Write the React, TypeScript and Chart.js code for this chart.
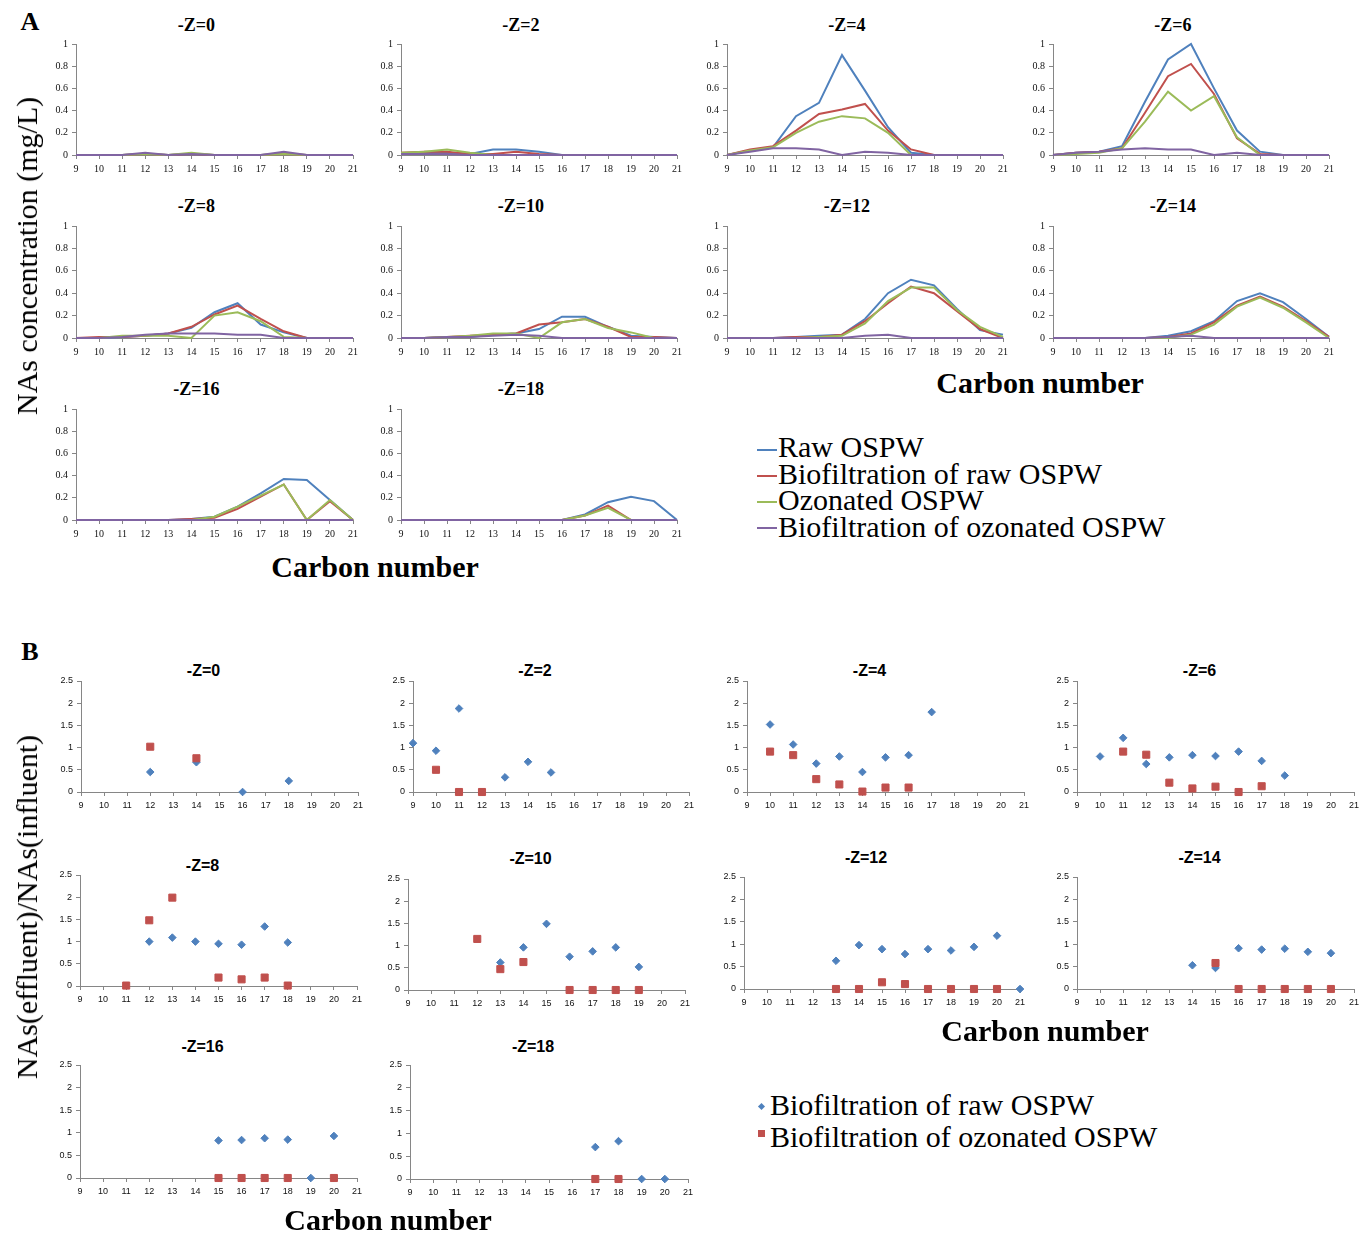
import React, { useEffect, useRef } from "react";
import { Chart, registerables } from "chart.js";

Chart.register(...registerables);

// ---------- shared ----------
const carbonNumbers = [9, 10, 11, 12, 13, 14, 15, 16, 17, 18, 19, 20, 21];
const zValues = [0, 2, 4, 6, 8, 10, 12, 14, 16, 18];

// ---------- Panel A: NAs concentration (mg/L) ----------
const seriesNamesA = ["Raw OSPW", "Biofiltration of raw OSPW", "Ozonated OSPW", "Biofiltration of ozonated OSPW"];
const seriesColorsA = ["#4F81BD", "#C0504D", "#9BBB59", "#8064A2"];

const rawZ0 = [0, 0, 0, 0.01, 0, 0.01, 0, 0, 0, 0.01, 0, 0, 0];
const bioRawZ0 = [0, 0, 0, 0.01, 0, 0.01, 0, 0, 0, 0.01, 0, 0, 0];
const ozoZ0 = [0, 0, 0, 0.01, 0, 0.02, 0, 0, 0, 0.01, 0, 0, 0];
const bioOzoZ0 = [0, 0, 0, 0.02, 0, 0.01, 0, 0, 0, 0.03, 0, 0, 0];

const rawZ2 = [0.01, 0.02, 0.02, 0.01, 0.05, 0.05, 0.03, 0, 0, 0, 0, 0, 0];
const bioRawZ2 = [0.02, 0.03, 0.03, 0.01, 0.01, 0.03, 0.01, 0, 0, 0, 0, 0, 0];
const ozoZ2 = [0.02, 0.03, 0.05, 0.02, 0, 0, 0, 0, 0, 0, 0, 0, 0];
const bioOzoZ2 = [0.01, 0.01, 0.01, 0, 0, 0, 0, 0, 0, 0, 0, 0, 0];

const rawZ4 = [0, 0.04, 0.07, 0.35, 0.47, 0.9, 0.58, 0.25, 0.02, 0, 0, 0, 0];
const bioRawZ4 = [0, 0.05, 0.08, 0.22, 0.37, 0.41, 0.46, 0.22, 0.05, 0, 0, 0, 0];
const ozoZ4 = [0, 0.04, 0.07, 0.2, 0.3, 0.35, 0.33, 0.2, 0, 0, 0, 0, 0];
const bioOzoZ4 = [0, 0.03, 0.06, 0.06, 0.05, 0, 0.03, 0.02, 0, 0, 0, 0, 0];

const rawZ6 = [0, 0.02, 0.03, 0.08, 0.48, 0.86, 1.0, 0.6, 0.22, 0.03, 0, 0, 0];
const bioRawZ6 = [0, 0.02, 0.03, 0.06, 0.38, 0.71, 0.82, 0.55, 0.15, 0.01, 0, 0, 0];
const ozoZ6 = [0, 0.01, 0.02, 0.06, 0.3, 0.57, 0.4, 0.53, 0.16, 0, 0, 0, 0];
const bioOzoZ6 = [0, 0.02, 0.03, 0.05, 0.06, 0.05, 0.05, 0, 0.02, 0, 0, 0, 0];

const rawZ8 = [0, 0, 0.01, 0.02, 0.04, 0.09, 0.23, 0.31, 0.12, 0.05, 0, 0, 0];
const bioRawZ8 = [0, 0.01, 0.01, 0.02, 0.04, 0.1, 0.21, 0.29, 0.17, 0.06, 0, 0, 0];
const ozoZ8 = [0, 0, 0.02, 0.02, 0.02, 0, 0.2, 0.23, 0.15, 0.01, 0, 0, 0];
const bioOzoZ8 = [0, 0, 0.01, 0.03, 0.04, 0.04, 0.04, 0.03, 0.03, 0, 0, 0, 0];

const rawZ10 = [0, 0, 0.01, 0.01, 0.03, 0.04, 0.08, 0.19, 0.19, 0.1, 0.02, 0.01, 0];
const bioRawZ10 = [0, 0, 0.01, 0.02, 0.03, 0.04, 0.12, 0.14, 0.17, 0.1, 0.01, 0.01, 0];
const ozoZ10 = [0, 0, 0.01, 0.02, 0.04, 0.04, 0, 0.14, 0.17, 0.09, 0.05, 0, 0];
const bioOzoZ10 = [0, 0, 0.01, 0.01, 0.02, 0.03, 0.02, 0, 0, 0, 0, 0, 0];

const rawZ12 = [0, 0, 0, 0.01, 0.02, 0.03, 0.17, 0.4, 0.52, 0.47, 0.26, 0.07, 0.03];
const bioRawZ12 = [0, 0, 0, 0.01, 0.01, 0.03, 0.15, 0.31, 0.46, 0.4, 0.24, 0.08, 0];
const ozoZ12 = [0, 0, 0, 0, 0.01, 0.02, 0.13, 0.33, 0.45, 0.45, 0.25, 0.1, 0.01];
const bioOzoZ12 = [0, 0, 0, 0, 0, 0, 0.02, 0.03, 0, 0, 0, 0, 0];

const rawZ14 = [0, 0, 0, 0, 0, 0.02, 0.06, 0.15, 0.33, 0.4, 0.32, 0.17, 0.01];
const bioRawZ14 = [0, 0, 0, 0, 0, 0.01, 0.04, 0.14, 0.29, 0.37, 0.28, 0.15, 0.01];
const ozoZ14 = [0, 0, 0, 0, 0, 0, 0.03, 0.12, 0.28, 0.36, 0.27, 0.14, 0];
const bioOzoZ14 = [0, 0, 0, 0, 0, 0.01, 0.02, 0, 0, 0, 0, 0, 0];

const rawZ16 = [0, 0, 0, 0, 0, 0.01, 0.03, 0.12, 0.24, 0.37, 0.36, 0.18, 0];
const bioRawZ16 = [0, 0, 0, 0, 0, 0.01, 0.02, 0.1, 0.21, 0.32, 0, 0.17, 0];
const ozoZ16 = [0, 0, 0, 0, 0, 0, 0.03, 0.12, 0.22, 0.32, 0, 0.18, 0];
const bioOzoZ16 = [0, 0, 0, 0, 0, 0, 0, 0, 0, 0, 0, 0, 0];

const rawZ18 = [0, 0, 0, 0, 0, 0, 0, 0, 0.05, 0.16, 0.21, 0.17, 0];
const bioRawZ18 = [0, 0, 0, 0, 0, 0, 0, 0, 0.04, 0.13, 0, 0, 0];
const ozoZ18 = [0, 0, 0, 0, 0, 0, 0, 0, 0.04, 0.11, 0, 0, 0];
const bioOzoZ18 = [0, 0, 0, 0, 0, 0, 0, 0, 0, 0, 0, 0, 0];

const panelASeries = [
  [rawZ0, bioRawZ0, ozoZ0, bioOzoZ0],
  [rawZ2, bioRawZ2, ozoZ2, bioOzoZ2],
  [rawZ4, bioRawZ4, ozoZ4, bioOzoZ4],
  [rawZ6, bioRawZ6, ozoZ6, bioOzoZ6],
  [rawZ8, bioRawZ8, ozoZ8, bioOzoZ8],
  [rawZ10, bioRawZ10, ozoZ10, bioOzoZ10],
  [rawZ12, bioRawZ12, ozoZ12, bioOzoZ12],
  [rawZ14, bioRawZ14, ozoZ14, bioOzoZ14],
  [rawZ16, bioRawZ16, ozoZ16, bioOzoZ16],
  [rawZ18, bioRawZ18, ozoZ18, bioOzoZ18],
];
const yTicksA = [0, 0.2, 0.4, 0.6, 0.8, 1];

// ---------- Panel B: NAs(effluent)/NAs(influent) ----------
const seriesNamesB = ["Biofiltration of raw OSPW", "Biofiltration of ozonated OSPW"];
const seriesColorsB = ["#4F81BD", "#C0504D"];
const yTicksB = [0, 0.5, 1, 1.5, 2, 2.5];

const _ = null;
const ratioRawZ0 = [_, _, _, 0.45, _, 0.67, _, 0, _, 0.25, _, _, _];
const ratioOzoZ0 = [_, _, _, 1.02, _, 0.76, _, _, _, _, _, _, _];
const ratioRawZ2 = [1.1, 0.93, 1.88, _, 0.33, 0.68, 0.44, _, _, _, _, _, _];
const ratioOzoZ2 = [_, 0.5, 0, 0, _, _, _, _, _, _, _, _, _];
const ratioRawZ4 = [_, 1.52, 1.07, 0.64, 0.8, 0.45, 0.78, 0.83, 1.8, _, _, _, _];
const ratioOzoZ4 = [_, 0.91, 0.83, 0.29, 0.17, 0.01, 0.1, 0.1, _, _, _, _, _];
const ratioRawZ6 = [_, 0.8, 1.22, 0.63, 0.78, 0.83, 0.81, 0.91, 0.7, 0.37, _, _, _];
const ratioOzoZ6 = [_, _, 0.91, 0.84, 0.21, 0.08, 0.12, 0, 0.13, _, _, _, _];
const ratioRawZ8 = [_, _, _, 1.0, 1.09, 1.0, 0.95, 0.93, 1.34, 0.98, _, _, _];
const ratioOzoZ8 = [_, _, 0.01, 1.48, 1.99, _, 0.19, 0.15, 0.19, 0.01, _, _, _];
const ratioRawZ10 = [_, _, _, _, 0.62, 0.96, 1.49, 0.75, 0.87, 0.96, 0.52, _, _];
const ratioOzoZ10 = [_, _, _, 1.15, 0.47, 0.63, _, 0, 0, 0, 0, _, _];
const ratioRawZ12 = [_, _, _, _, 0.63, 0.98, 0.89, 0.78, 0.89, 0.86, 0.94, 1.19, 0];
const ratioOzoZ12 = [_, _, _, _, 0, 0, 0.15, 0.11, 0, 0, 0, 0, _];
const ratioRawZ14 = [_, _, _, _, _, 0.53, 0.47, 0.91, 0.88, 0.9, 0.83, 0.8, _];
const ratioOzoZ14 = [_, _, _, _, _, _, 0.58, 0, 0, 0, 0, 0, _];
const ratioRawZ16 = [_, _, _, _, _, _, 0.83, 0.84, 0.88, 0.85, 0, 0.93, _];
const ratioOzoZ16 = [_, _, _, _, _, _, 0, 0, 0, 0, _, 0, _];
const ratioRawZ18 = [_, _, _, _, _, _, _, _, 0.7, 0.83, 0, 0, _];
const ratioOzoZ18 = [_, _, _, _, _, _, _, _, 0, 0, _, _, _];

const panelBSeries = [
  [ratioRawZ0, ratioOzoZ0],
  [ratioRawZ2, ratioOzoZ2],
  [ratioRawZ4, ratioOzoZ4],
  [ratioRawZ6, ratioOzoZ6],
  [ratioRawZ8, ratioOzoZ8],
  [ratioRawZ10, ratioOzoZ10],
  [ratioRawZ12, ratioOzoZ12],
  [ratioRawZ14, ratioOzoZ14],
  [ratioRawZ16, ratioOzoZ16],
  [ratioRawZ18, ratioOzoZ18],
];

// ---------- layout (plot-area boxes: left, top, right, bottom) ----------
const boxesA = [
  [76, 44, 353, 155], [401, 44, 677, 155], [727, 44, 1003, 155], [1053, 44, 1329, 155],
  [76, 226, 353, 338], [401, 226, 677, 338], [727, 226, 1003, 338], [1053, 226, 1329, 338],
  [76, 409, 353, 520], [401, 409, 677, 520],
];
const titleYA = [25, 25, 25, 25, 206, 206, 206, 206, 389, 389];

const boxesB = [
  [81, 681, 358, 792], [413, 681, 689, 792], [747, 681, 1024, 792], [1077, 681, 1354, 792],
  [80, 875, 357, 986], [408, 879, 685, 990], [744, 877, 1020, 989], [1077, 877, 1354, 989],
  [80, 1065, 357, 1178], [410, 1065, 688, 1179],
];
const titleYB = [671, 671, 671, 671, 866, 859, 858, 858, 1047, 1047];

const AXIS_GREY = "#868686";
const SERIF = "'Liberation Serif', 'Times New Roman', serif";
const SANS = "'Liberation Sans', Arial, sans-serif";

type SubProps = {
  box: number[];
  kind: "line" | "scatter";
  datasets: any[];
  yTicks: number[];
  fontFamily: string;
  fontSize: number;
};

function SubChart({ box, kind, datasets, yTicks, fontFamily, fontSize }: SubProps) {
  const ref = useRef<HTMLCanvasElement | null>(null);
  const padL = 44;
  const padT = 10;
  const padR = 14;
  const padB = 28;
  const [l, t, r, b] = box;
  const w = r - l + padL + padR;
  const h = b - t + padT + padB;

  useEffect(() => {
    if (!ref.current) return;
    const font = { family: fontFamily, size: fontSize };
    const chart = new Chart(ref.current, {
      type: kind,
      data: { datasets },
      options: {
        animation: false,
        responsive: false,
        maintainAspectRatio: false,
        events: [],
        layout: { padding: { top: padT, right: padR, left: 0, bottom: 0 } },
        plugins: { legend: { display: false }, tooltip: { enabled: false }, title: { display: false } },
        scales: {
          x: {
            type: "linear",
            min: carbonNumbers[0],
            max: carbonNumbers[carbonNumbers.length - 1],
            afterFit: (s: any) => { s.height = padB; },
            ticks: { stepSize: 1, autoSkip: false, maxRotation: 0, minRotation: 0, font, color: "#111", padding: 4 },
            grid: { drawOnChartArea: false, drawTicks: true, tickLength: 4, color: AXIS_GREY },
            border: { display: true, color: AXIS_GREY, width: 1 },
          },
          y: {
            type: "linear",
            min: yTicks[0],
            max: yTicks[yTicks.length - 1],
            afterFit: (s: any) => { s.width = padL; },
            afterBuildTicks: (s: any) => { s.ticks = yTicks.map((v) => ({ value: v })); },
            ticks: {
              font,
              color: "#111",
              padding: 4,
              callback: (v: any) => String(Math.round(Number(v) * 10) / 10),
            },
            grid: { drawOnChartArea: false, drawTicks: true, tickLength: 4, color: AXIS_GREY },
            border: { display: true, color: AXIS_GREY, width: 1 },
          },
        },
      } as any,
    });
    return () => chart.destroy();
  }, []);

  return (
    <canvas
      ref={ref}
      width={w}
      height={h}
      style={{ position: "absolute", left: l - padL, top: t - padT, width: w, height: h }}
    />
  );
}

function Txt({ x, y, children, style }: { x: number; y: number; children: any; style: any }) {
  return (
    <div
      style={{
        position: "absolute",
        left: x,
        top: y,
        transform: "translate(-50%, -50%)",
        whiteSpace: "nowrap",
        lineHeight: 1,
        color: "#000",
        ...style,
      }}
    >
      {children}
    </div>
  );
}

function lineDatasets(series: number[][]) {
  return series.map((vals, i) => ({
    label: seriesNamesA[i],
    data: carbonNumbers.map((c, k) => ({ x: c, y: vals[k] })),
    borderColor: seriesColorsA[i],
    backgroundColor: seriesColorsA[i],
    borderWidth: 2,
    pointRadius: 0,
    tension: 0,
    fill: false,
    clip: false,
    order: 3 - i,
  }));
}

function scatterDatasets(series: (number | null)[][]) {
  return series.map((vals, i) => ({
    label: seriesNamesB[i],
    data: carbonNumbers
      .map((c, k) => (vals[k] === null ? null : { x: c, y: vals[k] }))
      .filter((p) => p !== null),
    borderColor: seriesColorsB[i],
    backgroundColor: seriesColorsB[i],
    borderWidth: 1,
    pointStyle: i === 0 ? "rectRot" : "rect",
    pointRadius: i === 0 ? 3.8 : 5,
    clip: false,
    order: 1 - i,
  }));
}

export default function App() {
  const carbonTitle = { fontFamily: SERIF, fontWeight: "bold", fontSize: 30 };
  const yTitle = { fontFamily: SERIF, fontSize: 30, transform: "translate(-50%, -50%) rotate(-90deg)" };
  const legendText = { fontFamily: SERIF, fontSize: 30 };
  return (
    <div
      style={{
        position: "absolute",
        left: 0,
        top: 0,
        width: 1372,
        height: 1237,
        background: "#fff",
        overflow: "hidden",
      }}
    >
      {/* Panel letters */}
      <Txt x={30} y={22} style={{ fontFamily: SERIF, fontWeight: "bold", fontSize: 26 }}>A</Txt>
      <Txt x={30} y={652} style={{ fontFamily: SERIF, fontWeight: "bold", fontSize: 26 }}>B</Txt>

      {/* Panel A subplots */}
      {zValues.map((z, i) => (
        <React.Fragment key={"a" + z}>
          <Txt
            x={(boxesA[i][0] + boxesA[i][2]) / 2 - 18}
            y={titleYA[i]}
            style={{ fontFamily: SERIF, fontWeight: "bold", fontSize: 18 }}
          >
            {"-Z=" + z}
          </Txt>
          <SubChart
            box={boxesA[i]}
            kind="line"
            datasets={lineDatasets(panelASeries[i])}
            yTicks={yTicksA}
            fontFamily={SERIF}
            fontSize={10}
          />
        </React.Fragment>
      ))}

      <Txt x={27} y={256} style={yTitle}>NAs concentration (mg/L)</Txt>
      <Txt x={1040} y={383} style={carbonTitle}>Carbon number</Txt>
      <Txt x={375} y={567} style={carbonTitle}>Carbon number</Txt>

      {/* Panel A legend */}
      {seriesNamesA.map((name, i) => (
        <React.Fragment key={"la" + i}>
          <div
            style={{
              position: "absolute",
              left: 757,
              top: 450 + i * 26 - 1,
              width: 20,
              height: 2,
              background: seriesColorsA[i],
            }}
          />
          <div
            style={{
              position: "absolute",
              left: 778,
              top: 433 + i * 26.5,
              lineHeight: "27px",
              whiteSpace: "nowrap",
              ...legendText,
            }}
          >
            {name}
          </div>
        </React.Fragment>
      ))}

      {/* Panel B subplots */}
      {zValues.map((z, i) => (
        <React.Fragment key={"b" + z}>
          <Txt
            x={(boxesB[i][0] + boxesB[i][2]) / 2 - 16}
            y={titleYB[i]}
            style={{ fontFamily: SANS, fontWeight: "bold", fontSize: 16 }}
          >
            {"-Z=" + z}
          </Txt>
          <SubChart
            box={boxesB[i]}
            kind="scatter"
            datasets={scatterDatasets(panelBSeries[i])}
            yTicks={yTicksB}
            fontFamily={SANS}
            fontSize={9}
          />
        </React.Fragment>
      ))}

      <Txt x={27} y={907} style={yTitle}>NAs(effluent)/NAs(influent)</Txt>
      <Txt x={1045} y={1031} style={carbonTitle}>Carbon number</Txt>
      <Txt x={388} y={1220} style={carbonTitle}>Carbon number</Txt>

      {/* Panel B legend */}
      <div
        style={{
          position: "absolute",
          left: 759,
          top: 1104,
          width: 5,
          height: 5,
          background: seriesColorsB[0],
          transform: "rotate(45deg)",
        }}
      />
      <div
        style={{
          position: "absolute",
          left: 758,
          top: 1130,
          width: 7,
          height: 7,
          background: seriesColorsB[1],
        }}
      />
      {seriesNamesB.map((name, i) => (
        <div
          key={"lb" + i}
          style={{
            position: "absolute",
            left: 770,
            top: 1091 + i * 32,
            lineHeight: "27px",
            whiteSpace: "nowrap",
            ...legendText,
          }}
        >
          {name}
        </div>
      ))}
    </div>
  );
}
